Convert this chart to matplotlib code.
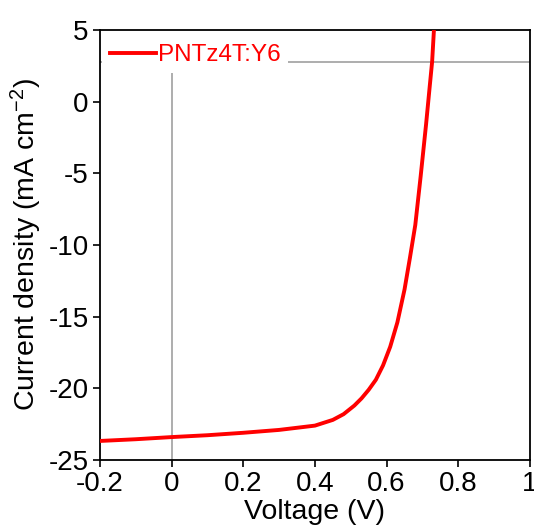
import matplotlib.pyplot as plt

plt.rcParams['font.family'] = ['Liberation Sans', 'DejaVu Sans']
plt.rcParams['axes.unicode_minus'] = False
plt.rcParams['mathtext.default'] = 'regular'

# J-V curve
voltage = [-0.2, -0.1, 0.0, 0.1, 0.2, 0.3, 0.4, 0.45, 0.48, 0.51, 0.53,
           0.55, 0.57, 0.59, 0.61, 0.63, 0.65, 0.665, 0.68, 0.695, 0.71,
           0.72, 0.727, 0.732]
current = [-23.67, -23.55, -23.4, -23.27, -23.1, -22.9, -22.6, -22.2, -21.8,
           -21.2, -20.7, -20.1, -19.4, -18.4, -17.1, -15.4, -13.1, -10.9,
           -8.6, -5.2, -1.6, 1.0, 2.8, 5.0]
label = 'PNTz4T:Y6'

x_ticks = [-0.2, 0, 0.2, 0.4, 0.6, 0.8, 1]
x_ticklabels = ['-0.2', '0', '0.2', '0.4', '0.6', '0.8', '1']
y_ticks = [-25, -20, -15, -10, -5, 0, 5]

fig = plt.figure(figsize=(5.34, 5.32), dpi=100)
ax = fig.add_axes([0.187, 0.1353, 0.8055, 0.8083])

# gray guide lines
ax.vlines(0, -25, 2.0, color='#a0a0a0', lw=1.2, zorder=1)
ax.axhline(2.77, color='#a0a0a0', lw=1.2, zorder=1)

ax.plot(voltage, current, color='#ff0000', lw=2.8, label=label, zorder=3)

ax.set_xlim(-0.2, 1)
ax.set_ylim(-25, 5)
ax.set_xticks(x_ticks)
ax.set_xticklabels(x_ticklabels)
ax.set_yticks(y_ticks)
ax.tick_params(direction='out', length=5, width=1.2, labelsize=20,
               top=False, right=False, pad=3)
for s in ax.spines.values():
    s.set_linewidth(1.3)

ax.set_xlabel('Voltage (V)', fontsize=20.5, labelpad=1)
ax.set_ylabel('Current density (mA cm$^{-2}$)', fontsize=20.5, labelpad=3)

leg = ax.legend(loc='upper left', bbox_to_anchor=(0.0, 0.99), fontsize=17.5,
                frameon=True, framealpha=1, edgecolor='none',
                facecolor='white', fancybox=False, borderaxespad=0.1,
                handlelength=1.9, handletextpad=0.08, borderpad=0.3)
for t in leg.get_texts():
    t.set_color('#ff0000')

fig.savefig('out.png', dpi=100)
